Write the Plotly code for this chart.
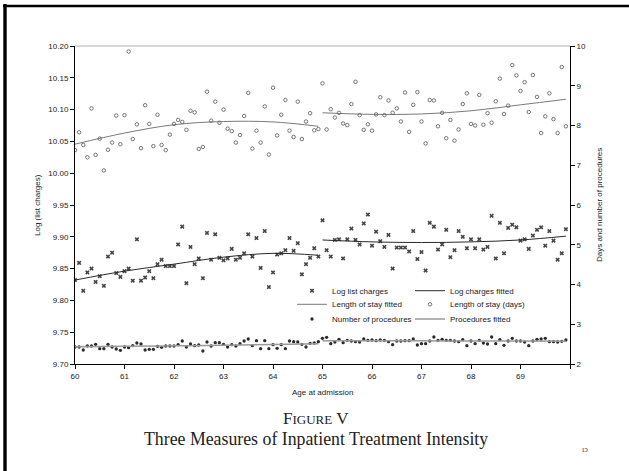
import plotly.graph_objects as go

# ---------------- data ----------------
ages = [round(60 + m / 12, 4) for m in range(120)]  # monthly age bins 60.0 .. 69.917

log_charges = [
    9.832, 9.859, 9.815, 9.844, 9.850, 9.829, 9.838, 9.823, 9.869, 9.875,
    9.843, 9.837, 9.846, 9.850, 9.831, 9.896, 9.831, 9.836, 9.846, 9.835,
    9.857, 9.864, 9.854, 9.854, 9.854, 9.888, 9.916, 9.827, 9.884, 9.857,
    9.866, 9.835, 9.906, 9.864, 9.904, 9.867, 9.863, 9.866, 9.881, 9.864,
    9.867, 9.874, 9.904, 9.869, 9.898, 9.851, 9.909, 9.821, 9.844, 9.872,
    9.874, 9.879, 9.898, 9.878, 9.890, 9.841, 9.857, 9.867, 9.882, 9.869,
    9.926, 9.879, 9.869, 9.895, 9.896, 9.866, 9.896, 9.913, 9.895, 9.888,
    9.921, 9.935, 9.886, 9.908, 9.893, 9.884, 9.903, 9.850, 9.883, 9.883,
    9.883, 9.877, 9.909, 9.865, 9.876, 9.847, 9.922, 9.916, 9.880, 9.888,
    9.911, 9.868, 9.879, 9.909, 9.900, 9.882, 9.896, 9.882, 9.896, 9.880,
    9.884, 9.933, 9.866, 9.922, 9.874, 9.914, 9.919, 9.915, 9.894, 9.896,
    9.881, 9.902, 9.911, 9.915, 9.886, 9.909, 9.894, 9.864, 9.874, 9.912,
]

length_of_stay = [
    7.38, 7.83, 7.51, 7.20, 8.43, 7.26, 7.67, 6.87, 7.39, 7.57,
    8.25, 7.53, 8.26, 9.86, 7.66, 8.03, 7.43, 8.51, 8.04, 7.48,
    8.27, 7.51, 7.38, 7.77, 8.04, 8.14, 8.09, 7.89, 8.37, 8.33,
    7.41, 7.46, 8.85, 8.12, 8.60, 8.07, 8.40, 7.92, 7.86, 7.57,
    7.76, 8.24, 8.82, 7.42, 7.87, 7.57, 8.48, 7.27, 8.95, 7.75,
    8.27, 8.64, 7.87, 7.71, 8.60, 7.66, 8.10, 8.31, 7.88, 7.91,
    9.06, 7.90, 8.41, 8.20, 8.32, 8.05, 8.01, 8.54, 9.10, 8.26,
    7.89, 8.03, 7.87, 8.28, 8.71, 8.26, 8.63, 8.32, 8.43, 8.10,
    8.83, 7.84, 8.52, 8.84, 8.10, 7.55, 8.64, 8.63, 7.98, 8.32,
    7.68, 8.14, 7.62, 7.90, 8.54, 8.81, 8.04, 8.00, 8.77, 8.02,
    8.31, 8.07, 8.61, 9.18, 8.29, 8.50, 9.52, 9.26, 8.87, 9.09,
    8.34, 9.27, 8.72, 7.81, 8.23, 8.81, 8.16, 7.81, 9.47, 7.98,
]

num_procedures = [
    2.428, 2.428, 2.352, 2.453, 2.453, 2.496, 2.385, 2.385, 2.496, 2.428,
    2.377, 2.345, 2.428, 2.410, 2.460, 2.528, 2.503, 2.352, 2.370, 2.370,
    2.445, 2.420, 2.453, 2.453, 2.453, 2.485, 2.579, 2.428, 2.503, 2.460,
    2.478, 2.327, 2.553, 2.453, 2.536, 2.536, 2.496, 2.428, 2.485, 2.453,
    2.511, 2.579, 2.629, 2.460, 2.586, 2.385, 2.586, 2.385, 2.485, 2.395,
    2.485, 2.385, 2.579, 2.561, 2.553, 2.496, 2.428, 2.521, 2.528, 2.561,
    2.647, 2.672, 2.511, 2.553, 2.621, 2.536, 2.596, 2.579, 2.561, 2.553,
    2.629, 2.596, 2.604, 2.586, 2.604, 2.596, 2.561, 2.485, 2.579, 2.579,
    2.586, 2.586, 2.629, 2.478, 2.511, 2.511, 2.579, 2.679, 2.596, 2.621,
    2.596, 2.596, 2.579, 2.561, 2.612, 2.460, 2.579, 2.511, 2.596, 2.528,
    2.503, 2.679, 2.511, 2.612, 2.470, 2.579, 2.647, 2.579, 2.579, 2.553,
    2.460, 2.579, 2.621, 2.629, 2.647, 2.561, 2.561, 2.553, 2.570, 2.604,
]

# fitted curves (read at a few ages, separately below and above 65)
fit_ages_below = [60, 61, 62, 63, 64, 64.917]
fit_ages_above = [65, 66, 67, 68, 69, 69.917]
charges_fit_below = [9.832, 9.846, 9.857, 9.868, 9.874, 9.871]
charges_fit_above = [9.895, 9.892, 9.891, 9.892, 9.895, 9.901]
los_fit_below = [7.53, 7.81, 8.02, 8.10, 8.09, 7.98]
los_fit_above = [8.32, 8.28, 8.29, 8.37, 8.52, 8.66]
proc_fit_below = [2.435, 2.445, 2.458, 2.472, 2.492, 2.512]
proc_fit_above = [2.585, 2.585, 2.583, 2.580, 2.578, 2.575]

x_ticks = [60, 61, 62, 63, 64, 65, 66, 67, 68, 69, 70]
x_ticklabels = ["60", "61", "62", "63", "64", "65", "66", "67", "68", "69", ""]

# ---------------- layout geometry ----------------
W, H = 629, 471
L, R, T, B = 75, 59, 46, 107
PW, PH = W - L - R, H - T - B


def fx(px):
    return (px - L) / PW


def fy(py):
    return (H - B - py) / PH


FONT = "Liberation Sans, Arial, Helvetica, sans-serif"
SERIF = "Liberation Serif, Times New Roman, serif"


def join(a, b):
    return a + [None] + b


fig = go.Figure()

# legend row 1
fig.add_trace(go.Scatter(
    x=ages, y=log_charges, mode="markers", name="Log list charges",
    marker=dict(symbol="x", size=4, color="#454545"), legend="legend"))
fig.add_trace(go.Scatter(
    x=join(fit_ages_below, fit_ages_above), y=join(charges_fit_below, charges_fit_above),
    mode="lines", name="Log charges fitted", line=dict(color="#2a2a2a", width=1, shape="spline"),
    connectgaps=False, legend="legend"))
# legend row 2
fig.add_trace(go.Scatter(
    x=join(fit_ages_below, fit_ages_above), y=join(los_fit_below, los_fit_above),
    mode="lines", name="Length of stay fitted", line=dict(color="#7a7a7a", width=1, shape="spline"),
    connectgaps=False, yaxis="y2", legend="legend2"))
fig.add_trace(go.Scatter(
    x=ages, y=length_of_stay, mode="markers", name="Length of stay (days)",
    marker=dict(symbol="circle-open", size=3.5, color="#666666", line=dict(width=0.9)),
    yaxis="y2", legend="legend2"))
# legend row 3
fig.add_trace(go.Scatter(
    x=ages, y=num_procedures, mode="markers", name="Number of procedures",
    marker=dict(symbol="circle", size=3.3, color="#2a2a2a"), yaxis="y2", legend="legend3"))
fig.add_trace(go.Scatter(
    x=join(fit_ages_below, fit_ages_above), y=join(proc_fit_below, proc_fit_above),
    mode="lines", name="Procedures fitted", line=dict(color="#9a9a9a", width=1.5, shape="spline"),
    connectgaps=False, yaxis="y2", legend="legend3"))

axis_common = dict(showline=True, linecolor="black", linewidth=1, ticks="outside",
                   ticklen=4, tickcolor="black", tickwidth=1, showgrid=False, zeroline=False,
                   tickfont=dict(family=FONT, size=8, color="#222"))

leg_common = dict(orientation="h", xanchor="left", yanchor="middle", entrywidth=73,
                  bgcolor="rgba(0,0,0,0)", font=dict(family=FONT, size=8, color="#222"),
                  itemwidth=30, x=fx(292))

fig.update_layout(
    width=W, height=H,
    margin=dict(l=L, r=R, t=T, b=B, pad=0),
    paper_bgcolor="white", plot_bgcolor="white",
    showlegend=True,
    xaxis=dict(range=[60, 70], tickvals=x_ticks, ticktext=x_ticklabels, **axis_common),
    yaxis=dict(range=[9.70, 10.20], tick0=9.70, dtick=0.05, tickformat=".2f", **axis_common),
    yaxis2=dict(range=[2, 10], dtick=1, overlaying="y", side="right", **axis_common),
    legend=dict(y=fy(290.7), **leg_common),
    legend2=dict(y=fy(304.3), **leg_common),
    legend3=dict(y=fy(319), **leg_common),
    shapes=[
        # light top frame line of the plot area
        dict(type="line", xref="paper", yref="paper", x0=0, x1=1, y0=1, y1=1,
             line=dict(color="#b0b0b0", width=1)),
        # scanned page border
        dict(type="line", xref="paper", yref="paper", x0=fx(5), x1=fx(5), y0=fy(4), y1=fy(475),
             line=dict(color="black", width=3.4)),
        dict(type="line", xref="paper", yref="paper", x0=fx(3), x1=fx(632), y0=fy(6), y1=fy(6),
             line=dict(color="black", width=2.6)),
    ],
    annotations=[
        dict(text="Log (list charges)", xref="paper", yref="paper", x=fx(37), y=fy(205),
             textangle=-90, showarrow=False, xanchor="center", yanchor="middle",
             font=dict(family=FONT, size=8, color="#222")),
        dict(text="Days and number of procedures", xref="paper", yref="paper", x=fx(599), y=fy(205),
             textangle=-90, showarrow=False, xanchor="center", yanchor="middle",
             font=dict(family=FONT, size=8, color="#222")),
        dict(text="Age at admission", xref="paper", yref="paper", x=fx(322), y=fy(392),
             showarrow=False, xanchor="center", yanchor="middle",
             font=dict(family=FONT, size=8, color="#222")),
        dict(text="F<span style='font-size:13px'>IGURE</span> V", xref="paper", yref="paper",
             x=fx(316), y=fy(418.5), showarrow=False, xanchor="center", yanchor="middle",
             font=dict(family=SERIF, size=17, color="#222")),
        dict(text="Three Measures of Inpatient Treatment Intensity", xref="paper", yref="paper",
             x=fx(315.5), y=fy(438.5), showarrow=False, xanchor="center", yanchor="middle",
             font=dict(family=SERIF, size=17.8, color="#222")),
        dict(text="ıɔ", xref="paper", yref="paper", x=fx(585), y=fy(449), showarrow=False,
             xanchor="center", yanchor="middle", font=dict(family=SERIF, size=8, color="#444")),
    ],
)

fig.write_html("out.html")
